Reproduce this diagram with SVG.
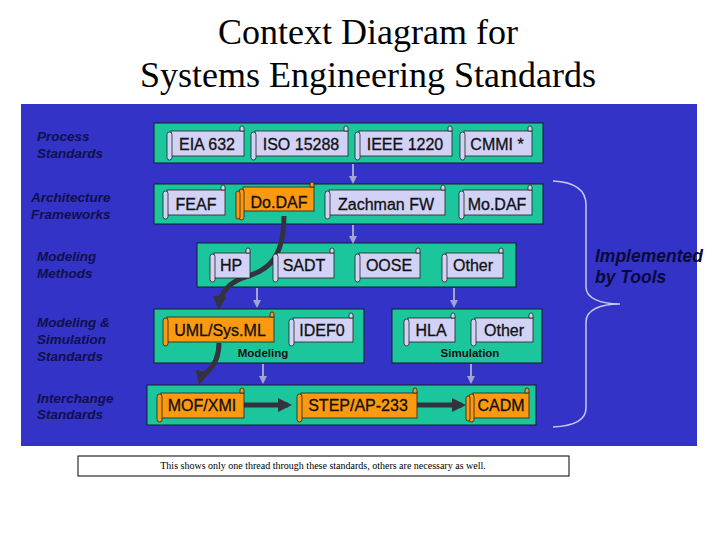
<svg xmlns="http://www.w3.org/2000/svg" width="720" height="540" viewBox="0 0 720 540">
<defs>
<style>
.title{font-family:"Liberation Serif","Times New Roman",serif;font-size:36px;fill:#000;text-anchor:middle}
.side{font-family:"Liberation Sans",Arial,sans-serif;font-size:13.5px;font-weight:bold;font-style:italic;fill:#10104a}
.tool{font-family:"Liberation Sans",Arial,sans-serif;font-size:17.5px;font-weight:bold;font-style:italic;fill:#0a0a3a}
.band{fill:#1cc69c;stroke:#1a1a2a;stroke-width:1}
.sc{fill:#d2d2f6;stroke:#222;stroke-width:0.8}
.sc.o{fill:#fb9a10}
.lbl{font-family:"Liberation Sans",Arial,sans-serif;font-size:16px;fill:#111;text-anchor:middle;stroke:#111;stroke-width:0.3}
.small{font-family:"Liberation Sans",Arial,sans-serif;font-size:11.5px;font-weight:bold;fill:#111;text-anchor:middle}
.note{font-family:"Liberation Serif","Times New Roman",serif;font-size:10px;fill:#000;text-anchor:middle}
.gray{stroke:#a4a4d4;stroke-width:2;fill:none}
.thick{stroke:#33333f;stroke-width:5;fill:none}
</style>
<marker id="ga" markerWidth="8" markerHeight="8" refX="5" refY="4" orient="auto" markerUnits="userSpaceOnUse" viewBox="0 0 8 8"><path d="M0,0 L8,4 L0,8 z" fill="#a4a4d4"/></marker>
<marker id="ta" markerWidth="14" markerHeight="14" refX="10" refY="7" orient="auto" markerUnits="userSpaceOnUse" viewBox="0 0 14 14"><path d="M0,0 L14,7 L0,14 z" fill="#33333f"/></marker>
</defs>
<rect width="720" height="540" fill="#fff"/>
<text class="title" x="368" y="44">Context Diagram for</text>
<text class="title" x="368" y="87">Systems Engineering Standards</text>
<rect x="21" y="104" width="676" height="342" fill="#3333c8"/>

<g id="side-labels">
<text class="side" x="37" y="141">Process</text>
<text class="side" x="37" y="158">Standards</text>
<text class="side" x="31" y="202">Architecture</text>
<text class="side" x="31" y="219">Frameworks</text>
<text class="side" x="37" y="261">Modeling</text>
<text class="side" x="37" y="278">Methods</text>
<text class="side" x="37" y="327">Modeling &amp;</text>
<text class="side" x="37" y="344">Simulation</text>
<text class="side" x="37" y="361">Standards</text>
<text class="side" x="37" y="403">Interchange</text>
<text class="side" x="37" y="419">Standards</text>
</g>

<g id="bands">
<rect class="band" x="154" y="123" width="389" height="40"/>
<rect class="band" x="154" y="184" width="389" height="40"/>
<rect class="band" x="197" y="243" width="319" height="44"/>
<rect class="band" x="154" y="309" width="210" height="54"/>
<rect class="band" x="392" y="309" width="150" height="54"/>
<rect class="band" x="147" y="385" width="389" height="40"/>
</g>

<g id="connectors">
<line class="gray" x1="353" y1="164" x2="353" y2="181" marker-end="url(#ga)"/>
<line class="gray" x1="353" y1="225" x2="353" y2="241" marker-end="url(#ga)"/>
<line class="gray" x1="257" y1="288" x2="257" y2="305" marker-end="url(#ga)"/>
<line class="gray" x1="454" y1="288" x2="454" y2="305" marker-end="url(#ga)"/>
<line class="gray" x1="263" y1="364" x2="263" y2="381" marker-end="url(#ga)"/>
<line class="gray" x1="471" y1="364" x2="471" y2="381" marker-end="url(#ga)"/>
<path class="thick" d="M284,216 C284,258 268,270 248,276 C228,282 220,294 219,306" marker-end="url(#ta)"/>
<path class="thick" d="M219,343 C219,358 214,366 207,372 C201,377 200,381 200,381" marker-end="url(#ta)"/>
<line class="thick" x1="244" y1="405" x2="288" y2="405" marker-end="url(#ta)"/>
<line class="thick" x1="417" y1="405" x2="462" y2="405" marker-end="url(#ta)"/>
</g>

<g id="n-eia632"><rect class="sc" x="171" y="131" width="73" height="25"/><path class="sc" d="M240,131 V128 a2,2 0 1 1 4,0 V131 z"/><rect class="sc" x="167" y="132" width="5" height="28" rx="2.5"/><text class="lbl" x="207" y="150">EIA 632</text></g>
<g id="n-iso15288"><rect class="sc" x="255" y="131" width="93" height="25"/><path class="sc" d="M344,131 V128 a2,2 0 1 1 4,0 V131 z"/><rect class="sc" x="251" y="132" width="5" height="28" rx="2.5"/><text class="lbl" x="301" y="150">ISO 15288</text></g>
<g id="n-ieee1220"><rect class="sc" x="359" y="131" width="93" height="25"/><path class="sc" d="M448,131 V128 a2,2 0 1 1 4,0 V131 z"/><rect class="sc" x="355" y="132" width="5" height="28" rx="2.5"/><text class="lbl" x="405" y="150">IEEE 1220</text></g>
<g id="n-cmmi"><rect class="sc" x="464" y="131" width="68" height="25"/><path class="sc" d="M528,131 V128 a2,2 0 1 1 4,0 V131 z"/><rect class="sc" x="460" y="132" width="5" height="28" rx="2.5"/><text class="lbl" x="497" y="150">CMMI *</text></g>

<g id="n-feaf"><rect class="sc" x="167" y="190" width="58" height="25"/><path class="sc" d="M221,190 V187 a2,2 0 1 1 4,0 V190 z"/><rect class="sc" x="163" y="191" width="5" height="28" rx="2.5"/><text class="lbl" x="196" y="210">FEAF</text></g>
<g id="n-dodaf"><rect class="sc o" x="243" y="187" width="71" height="24"/><path class="sc o" d="M310,187 V184 a2,2 0 1 1 4,0 V187 z"/><rect class="sc o" x="239" y="189" width="5" height="31" rx="2.5"/><rect class="sc o" x="236" y="191" width="4" height="28" rx="2"/><text class="lbl" x="279" y="208">Do.DAF</text></g>
<g id="n-zachman"><rect class="sc" x="329" y="190" width="116" height="25"/><path class="sc" d="M441,190 V187 a2,2 0 1 1 4,0 V190 z"/><rect class="sc" x="325" y="191" width="5" height="28" rx="2.5"/><text class="lbl" x="386" y="210">Zachman FW</text></g>
<g id="n-modaf"><rect class="sc" x="463" y="190" width="69" height="25"/><path class="sc" d="M528,190 V187 a2,2 0 1 1 4,0 V190 z"/><rect class="sc" x="459" y="191" width="5" height="28" rx="2.5"/><text class="lbl" x="497" y="210">Mo.DAF</text></g>

<g id="n-hp"><rect class="sc" x="214" y="253" width="36" height="25"/><path class="sc" d="M246,253 V250 a2,2 0 1 1 4,0 V253 z"/><rect class="sc" x="210" y="254" width="5" height="28" rx="2.5"/><text class="lbl" x="231" y="271">HP</text></g>
<g id="n-sadt"><rect class="sc" x="277" y="253" width="57" height="25"/><path class="sc" d="M330,253 V250 a2,2 0 1 1 4,0 V253 z"/><rect class="sc" x="273" y="254" width="5" height="28" rx="2.5"/><text class="lbl" x="304" y="271">SADT</text></g>
<g id="n-oose"><rect class="sc" x="359" y="253" width="61" height="25"/><path class="sc" d="M416,253 V250 a2,2 0 1 1 4,0 V253 z"/><rect class="sc" x="355" y="254" width="5" height="28" rx="2.5"/><text class="lbl" x="389" y="271">OOSE</text></g>
<g id="n-other1"><rect class="sc" x="446" y="253" width="57" height="25"/><path class="sc" d="M499,253 V250 a2,2 0 1 1 4,0 V253 z"/><rect class="sc" x="442" y="254" width="5" height="28" rx="2.5"/><text class="lbl" x="473" y="271">Other</text></g>

<g id="n-umlsysml"><rect class="sc o" x="167" y="317" width="107" height="25"/><path class="sc o" d="M270,317 V314 a2,2 0 1 1 4,0 V317 z"/><rect class="sc o" x="163" y="318" width="5" height="28" rx="2.5"/><text class="lbl" x="220" y="336">UML/Sys.ML</text></g>
<g id="n-idef0"><rect class="sc" x="293" y="318" width="60" height="24"/><path class="sc" d="M349,318 V315 a2,2 0 1 1 4,0 V318 z"/><rect class="sc" x="289" y="319" width="5" height="27" rx="2.5"/><text class="lbl" x="322" y="336">IDEF0</text></g>
<g id="n-hla"><rect class="sc" x="408" y="318" width="47" height="24"/><path class="sc" d="M451,318 V315 a2,2 0 1 1 4,0 V318 z"/><rect class="sc" x="404" y="319" width="5" height="27" rx="2.5"/><text class="lbl" x="431" y="336">HLA</text></g>
<g id="n-other2"><rect class="sc" x="475" y="318" width="58" height="24"/><path class="sc" d="M529,318 V315 a2,2 0 1 1 4,0 V318 z"/><rect class="sc" x="471" y="319" width="5" height="27" rx="2.5"/><text class="lbl" x="504" y="336">Other</text></g>
<text class="small" x="263" y="357">Modeling</text>
<text class="small" x="470" y="357">Simulation</text>

<g id="n-mofxmi"><rect class="sc o" x="161" y="393" width="83" height="25"/><path class="sc o" d="M240,393 V390 a2,2 0 1 1 4,0 V393 z"/><rect class="sc o" x="157" y="394" width="5" height="28" rx="2.5"/><text class="lbl" x="202" y="411">MOF/XMI</text></g>
<g id="n-step"><rect class="sc o" x="301" y="393" width="116" height="25"/><path class="sc o" d="M413,393 V390 a2,2 0 1 1 4,0 V393 z"/><rect class="sc o" x="297" y="394" width="5" height="28" rx="2.5"/><text class="lbl" x="358" y="411">STEP/AP-233</text></g>
<g id="n-cadm"><rect class="sc o" x="473" y="393" width="56" height="25"/><path class="sc o" d="M525,393 V390 a2,2 0 1 1 4,0 V393 z"/><rect class="sc o" x="469" y="394" width="5" height="28" rx="2.5"/><rect class="sc o" x="466" y="396" width="4" height="25" rx="2"/><text class="lbl" x="501" y="411">CADM</text></g>

<g id="brace">
<path d="M553,181 C575,182 586,190 586,205 V287 C586,298 600,304 620,304 C600,304 586,310 586,322 V408 C586,420 575,426 553,427" fill="none" stroke="#c8c8f0" stroke-width="1.5"/>
<text class="tool" x="595" y="262">Implemented</text>
<text class="tool" x="595" y="283">by Tools</text>
</g>

<g id="note">
<rect x="78" y="456" width="491" height="20" fill="#fff" stroke="#000" stroke-width="1"/>
<text class="note" x="323" y="469">This shows only one thread through these standards, others are necessary as well.</text>
</g>
</svg>
